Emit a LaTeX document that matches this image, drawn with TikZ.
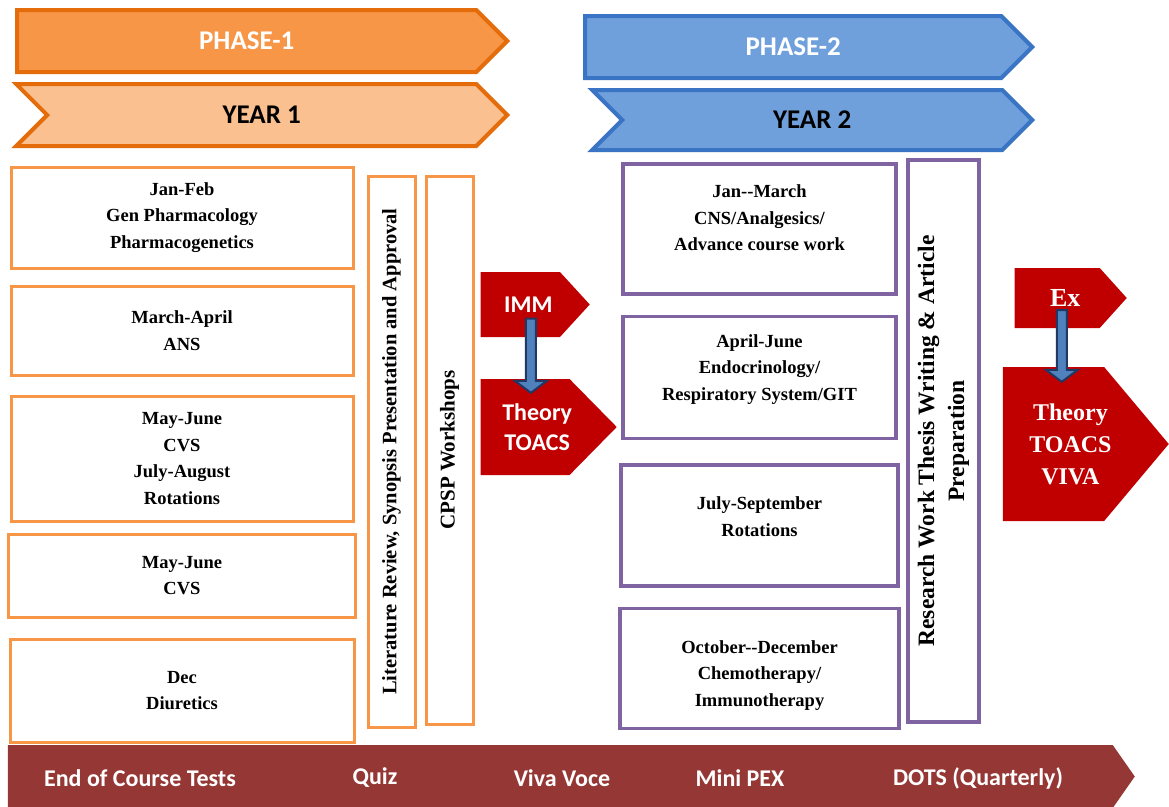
\documentclass[tikz,border=0pt]{standalone}
\usepackage{fontspec}
\setmainfont{Liberation Serif}
\newfontfamily\carlito{Carlito}
\usetikzlibrary{shapes.symbols, positioning, calc}

\definecolor{phaseorange}{HTML}{F79646}
\definecolor{phaseedge}{HTML}{E46C0A}
\definecolor{yearorange}{HTML}{FAC090}
\definecolor{phaseblue}{HTML}{6FA0DC}
\definecolor{blueedge}{HTML}{3A74C4}
\definecolor{boxorange}{HTML}{F79646}
\definecolor{boxpurple}{HTML}{8064A2}
\definecolor{examred}{HTML}{C00000}
\definecolor{barred}{HTML}{953735}
\definecolor{arrowblue}{HTML}{4F81BD}
\definecolor{arrownavy}{HTML}{1F3864}

\begin{document}
\begin{tikzpicture}[x=1pt, y=-1pt,
    phase/.style={signal, signal to=east, anchor=east, draw=phaseedge, fill=phaseorange,
        line width=4pt, inner sep=0pt, minimum height=62pt, text=white,
        font=\carlito\bfseries\fontsize{27}{30}\selectfont},
    year/.style={phase, signal from=west, fill=yearorange, text=black},
    boxtext/.style={align=center, font=\bfseries\fontsize{18.5}{26.5}\selectfont},
    monthbox/.style={boxtext, draw=boxorange, line width=3pt, inner sep=0pt},
    termbox/.style={monthbox, draw=boxpurple, line width=3.5pt},
    exam/.style={signal, signal to=east, anchor=east, fill=examred, inner sep=0pt},
    examtext/.style={text=white, align=center, font=\carlito\bfseries\fontsize{24}{30}\selectfont},
    bartext/.style={text=white, font=\carlito\bfseries\fontsize{24}{28}\selectfont},
    downarrow/.style={fill=arrowblue, draw=arrownavy, line width=2pt}]

    \useasboundingbox[fill=white] (0,0) rectangle (1169,806);

    % Phase and year banners
    \node[phase, minimum width=490pt] (ph1) at (510,41) {PHASE-1};
    \node[year, minimum width=491pt] (yr1) at (510,115) {YEAR 1};
    \node[phase, draw=blueedge, fill=phaseblue, minimum width=447pt] (ph2) at (1035,47) {PHASE-2};
    \node[year, draw=blueedge, fill=phaseblue, minimum width=440pt,
          minimum height=60pt] (yr2) at (1035,120) {YEAR 2};

    % Year 1 blocks
    \node[monthbox, minimum width=342pt, minimum height=101pt] (b1) at (182,217.5)
        {Jan-Feb\\Gen Pharmacology\\Pharmacogenetics};
    \node[monthbox, minimum width=342pt, minimum height=89pt, below=15pt of b1] (b2)
        {March-April\\ANS};
    \node[monthbox, minimum width=342pt, minimum height=125pt, below=18pt of b2] (b3)
        {May-June\\CVS\\July-August\\Rotations};
    \node[monthbox, minimum width=347pt, minimum height=83pt, below=10pt of b3] (b4)
        {May-June\\CVS};
    \node[monthbox, minimum width=344pt, minimum height=103pt, below=19pt of b4] (b5)
        {Dec\\Diuretics};

    \node[monthbox, rotate=90, minimum width=551pt, minimum height=47pt,
          font=\bfseries\fontsize{20.5}{24}\selectfont] (lit) at (391.5,451.5)
        {Literature Review, Synopsis Presentation and Approval};
    \node[monthbox, rotate=90, minimum width=548pt, minimum height=47pt,
          font=\bfseries\fontsize{21}{24}\selectfont] (cpsp) at (449.5,450)
        {CPSP Workshops};

    % Year 1 exams
    \node[exam, minimum width=109pt, minimum height=65pt, signal pointer angle=95,
          label={[examtext, xshift=8pt]center:IMM}] (imm) at (590,304.5) {};
    \node[exam, minimum width=136pt, minimum height=96pt, signal pointer angle=91,
          label={[examtext, xshift=12pt]center:{Theory\\TOACS}}] (th1) at (617,427) {};

    % Year 2 blocks
    \node[termbox, minimum width=273pt, minimum height=130pt,
          label={[boxtext, yshift=11pt]center:{Jan-{}-March\\CNS/Analgesics/\\Advance course work}}]
        (p1) at (759.5,229) {};
    \node[termbox, minimum width=273pt, minimum height=122pt, below=19pt of p1,
          label={[boxtext, yshift=8pt]center:{April-June\\Endocrinology/\\Respiratory System/GIT}}]
        (p2) {};
    \node[termbox, minimum width=277pt, minimum height=121pt, below=23pt of p2,
          label={[boxtext, yshift=9pt]center:{July-September\\Rotations}}]
        (p3) {};
    \node[termbox, minimum width=279pt, minimum height=120pt, below=19pt of p3,
          label={[boxtext, yshift=-7pt]center:{October-{}-December\\Chemotherapy/\\Immunotherapy}}]
        (p4) {};

    \node[termbox, rotate=90, minimum width=562pt, minimum height=71pt,
          font=\bfseries\fontsize{23.5}{30}\selectfont] (res) at (943.5,441)
        {Research Work Thesis Writing \& Article\\Preparation};

    % Year 2 exams
    \node[exam, minimum width=112pt, minimum height=60pt, signal pointer angle=96,
          label={[examtext, xshift=8pt, font=\rmfamily\bfseries\fontsize{26}{30}\selectfont]center:Ex}]
        (ex) at (1127,298) {};
    \node[exam, minimum width=166pt, minimum height=154pt, signal pointer angle=100,
          label={[examtext, xshift=17pt, font=\rmfamily\bfseries\fontsize{24}{32}\selectfont]center:{Theory\\TOACS\\VIVA}}]
        (th2) at (1169,444) {};

    % Arrows between exams
    \coordinate (s1) at ($(imm.west)!0.46!(imm.east) + (0,14)$);
    \coordinate (e1) at ($(th1.north -| s1) + (0,14)$);
    \filldraw[downarrow] ($(s1)+(-5,0)$) -- ($(e1)+(-5,-12)$) -- ($(e1)+(-16,-12)$) -- (e1)
        -- ($(e1)+(16,-12)$) -- ($(e1)+(5,-12)$) -- ($(s1)+(5,0)$) -- cycle;
    \coordinate (s2) at ($(ex.west)!0.42!(ex.east) + (0,12)$);
    \coordinate (e2) at ($(th2.north -| s2) + (0,15)$);
    \filldraw[downarrow] ($(s2)+(-5,0)$) -- ($(e2)+(-5,-12)$) -- ($(e2)+(-16,-12)$) -- (e2)
        -- ($(e2)+(16,-12)$) -- ($(e2)+(5,-12)$) -- ($(s2)+(5,0)$) -- cycle;

    % Assessment bar
    \node[signal, signal to=east, anchor=east, fill=barred, inner sep=0pt, minimum width=1127pt,
          minimum height=63pt, signal pointer angle=110] (bar) at (1135,776.5) {};
    \node[bartext] (t1) at (140,778) {End of Course Tests};
    \node[bartext] (t2) at (375,778) {Quiz};
    \node[bartext] (t3) at (562,778) {Viva Voce};
    \node[bartext] (t4) at (740,778) {Mini PEX};
    \node[bartext] (t5) at (978,778) {DOTS (Quarterly)};
\end{tikzpicture}
\end{document}
